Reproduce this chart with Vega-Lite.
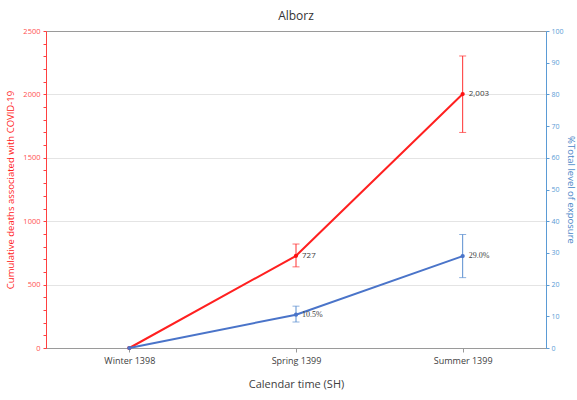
{
  "$schema": "https://vega.github.io/schema/vega-lite/v6.json",
  "width": 500,
  "height": 317,
  "autosize": "none",
  "padding": {"left": 46, "top": 31, "right": 31, "bottom": 52},
  "background": "white",
  "view": {"stroke": "#9a9a9a", "strokeWidth": 1},
  "title": {"text": "Alborz", "fontSize": 12, "font": "Open Sans", "fontWeight": "normal", "color": "#333333", "offset": 4},
  "config": {"font": "Open Sans"},
  "data": {"values": [
    {"season": "Winter 1398", "deaths": 0, "dlo": null, "dhi": null, "dlabel": "", "exposure": 0, "elo": null, "ehi": null, "elabel": ""},
    {"season": "Spring 1399", "deaths": 727, "dlo": 640, "dhi": 820, "dlabel": "727", "exposure": 10.5, "elo": 8.2, "ehi": 13.2, "elabel": "10.5%"},
    {"season": "Summer 1399", "deaths": 2003, "dlo": 1700, "dhi": 2303, "dlabel": "2,003", "exposure": 29.0, "elo": 22.2, "ehi": 35.8, "elabel": "29.0%"}
  ]},
  "encoding": {
    "x": {
      "field": "season", "type": "ordinal",
      "sort": ["Winter 1398", "Spring 1399", "Summer 1399"],
      "scale": {"type": "point", "padding": 0.5},
      "axis": {
        "title": "Calendar time (SH)", "titleFontSize": 11, "titleFontWeight": "normal", "titleColor": "#404040", "titlePadding": 13,
        "labelAngle": 0, "labelFontSize": 9, "labelColor": "#404040", "labelPadding": 4,
        "domainColor": "#9a9a9a", "tickColor": "#9a9a9a", "tickSize": 4, "grid": false
      }
    }
  },
  "layer": [
    {
      "encoding": {
        "y": {
          "type": "quantitative",
          "scale": {"domain": [0, 2500], "nice": false},
          "axis": {
            "title": "Cumulative deaths associated with COVID-19", "titleColor": "#ff2020", "titleFontSize": 9.5, "titleFontWeight": "normal", "titlePadding": 7,
            "values": [0,100,200,300,400,500,600,700,800,900,1000,1100,1200,1300,1400,1500,1600,1700,1800,1900,2000,2100,2200,2300,2400,2500],
            "labelExpr": "datum.value % 500 === 0 ? format(datum.value, 'd') : ''",
            "labelColor": "#ff5050", "labelFontSize": 7.5, "labelPadding": 3,
            "domainColor": "#ff4040", "tickColor": "#ff4040", "tickSize": 3,
            "grid": true, "gridColor": "#e4e4e4",
            "gridOpacity": {"condition": {"test": "datum.value % 500 === 0 && datum.value > 0 && datum.value < 2500", "value": 1}, "value": 0}
          }
        }
      },
      "layer": [
        {"mark": {"type": "line", "color": "#ff2020", "strokeWidth": 2}, "encoding": {"y": {"field": "deaths"}}},
        {"transform": [{"filter": "datum.dlo != null"}], "mark": {"type": "rule", "color": "#ff3030", "strokeWidth": 1}, "encoding": {"y": {"field": "dlo"}, "y2": {"field": "dhi"}}},
        {"transform": [{"filter": "datum.dlo != null"}], "mark": {"type": "tick", "color": "#ff3030", "size": 7, "thickness": 1}, "encoding": {"y": {"field": "dlo"}}},
        {"transform": [{"filter": "datum.dhi != null"}], "mark": {"type": "tick", "color": "#ff3030", "size": 7, "thickness": 1}, "encoding": {"y": {"field": "dhi"}}},
        {"mark": {"type": "point", "filled": true, "color": "#ff1010", "size": 18, "opacity": 1}, "encoding": {"y": {"field": "deaths"}}},
        {"transform": [{"filter": "datum.dlabel != ''"}], "mark": {"type": "text", "align": "left", "dx": 6, "fontSize": 8, "color": "#404040"}, "encoding": {"y": {"field": "deaths"}, "text": {"field": "dlabel"}}}
      ]
    },
    {
      "encoding": {
        "y": {
          "type": "quantitative",
          "scale": {"domain": [0, 100], "nice": false},
          "axis": {
            "orient": "right",
            "title": "%Total level of exposure", "titleColor": "#4a86c8", "titleFontSize": 9.5, "titleFontWeight": "normal", "titlePadding": 2,
            "values": [0,10,20,30,40,50,60,70,80,90,100],
            "labelColor": "#5b9bd5", "labelFontSize": 7, "labelPadding": 2,
            "domainColor": "#5b9bd5", "tickColor": "#5b9bd5", "tickSize": 3,
            "grid": false
          }
        }
      },
      "layer": [
        {"mark": {"type": "line", "color": "#4a74c9", "strokeWidth": 2}, "encoding": {"y": {"field": "exposure"}}},
        {"transform": [{"filter": "datum.elo != null"}], "mark": {"type": "rule", "color": "#5b8fd0", "strokeWidth": 1}, "encoding": {"y": {"field": "elo"}, "y2": {"field": "ehi"}}},
        {"transform": [{"filter": "datum.elo != null"}], "mark": {"type": "tick", "color": "#5b8fd0", "size": 7, "thickness": 1}, "encoding": {"y": {"field": "elo"}}},
        {"transform": [{"filter": "datum.ehi != null"}], "mark": {"type": "tick", "color": "#5b8fd0", "size": 7, "thickness": 1}, "encoding": {"y": {"field": "ehi"}}},
        {"mark": {"type": "point", "filled": true, "color": "#4a74c9", "size": 18, "opacity": 1}, "encoding": {"y": {"field": "exposure"}}},
        {"transform": [{"filter": "datum.elabel != ''"}], "mark": {"type": "text", "align": "left", "dx": 6, "fontSize": 8, "font": "Liberation Serif", "color": "#404040"}, "encoding": {"y": {"field": "exposure"}, "text": {"field": "elabel"}}}
      ]
    }
  ],
  "resolve": {"scale": {"y": "independent"}}
}
